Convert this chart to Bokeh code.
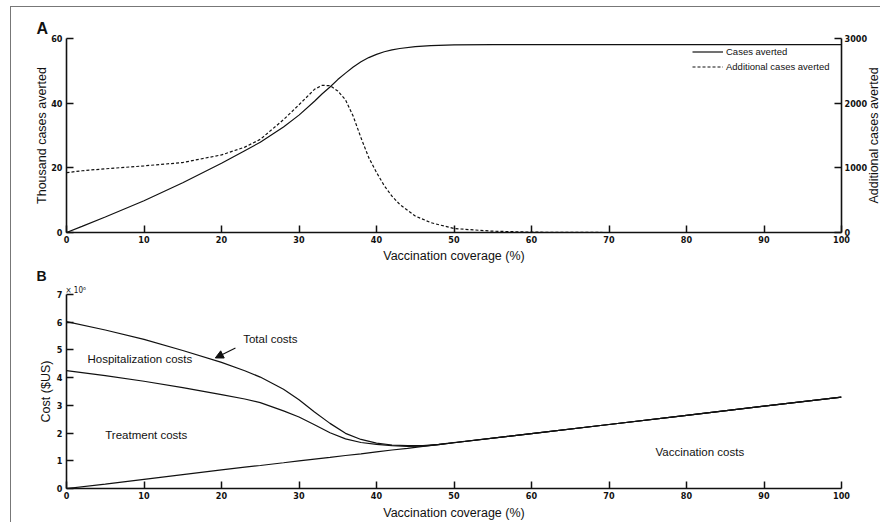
import math
from bokeh.plotting import figure
from bokeh.models import (Range1d, LinearAxis, FixedTicker, Label, Arrow, NormalHead,
                          Legend, LegendItem, Title)
from bokeh.layouts import column, row
from bokeh.embed import file_html
from bokeh.resources import INLINE

# ---------------- data ----------------
# Panel A
coverage_a = [0, 2, 5, 10, 15, 20, 23, 25, 28, 30, 32, 33, 34, 35, 36, 37, 38, 39, 40,
              41, 42, 43, 45, 47, 50, 55, 60, 70, 80, 90, 100]
cases_averted_thousand = [0, 1.9, 4.8, 9.8, 15.4, 21.4, 25.3, 27.9, 32.6, 36.3, 40.6, 42.9,
                          45.0, 47.3, 49.3, 51.2, 52.8, 54.1, 55.1, 55.9, 56.5, 56.9, 57.5,
                          57.8, 58.0, 58.1, 58.1, 58.1, 58.1, 58.1, 58.1]
additional_cases_averted = [925, 955, 985, 1030, 1082, 1200, 1320, 1440, 1745, 1975, 2214,
                            2276, 2270, 2189, 2051, 1796, 1464, 1158, 929, 724, 561, 434,
                            255, 153, 61, 20, 5, 0, 0, 0, 0]

# Panel B (cumulative curves, million $US)
coverage_b = [0, 5, 10, 15, 20, 23, 25, 28, 30, 32, 34, 36, 38, 40, 42, 44, 46, 48, 50,
              60, 70, 80, 90, 100]
vaccination_costs = [0, 0.16, 0.33, 0.50, 0.67, 0.77, 0.83, 0.93, 1.00, 1.06, 1.12, 1.19,
                     1.25, 1.32, 1.39, 1.45, 1.52, 1.58, 1.65, 1.98, 2.31, 2.64, 2.97, 3.30]
vacc_plus_treatment = [4.25, 4.07, 3.87, 3.64, 3.39, 3.23, 3.10, 2.80, 2.58, 2.30, 2.01, 1.79,
                       1.66, 1.59, 1.55, 1.52, 1.53, 1.58, 1.65, 1.98, 2.31, 2.64, 2.97, 3.30]
total_costs = [6.02, 5.72, 5.38, 4.98, 4.55, 4.25, 4.02, 3.58, 3.20, 2.76, 2.35, 1.99,
               1.77, 1.64, 1.57, 1.55, 1.55, 1.59, 1.66, 1.98, 2.31, 2.64, 2.97, 3.30]

x_ticks = [0, 10, 20, 30, 40, 50, 60, 70, 80, 90, 100]
a_left_ticks = [0, 20, 40, 60]
a_right_ticks = [0, 1000, 2000, 3000]
b_ticks = [0, 1, 2, 3, 4, 5, 6, 7]

# ---------------- style ----------------
TICK_FONT = "Liberation Sans Narrow, DejaVu Sans Condensed, sans-serif"
TEXT_FONT = "Liberation Sans"
INK = "#111111"


def style_axis(ax, ticks, standoff=4):
    ax.ticker = FixedTicker(ticks=ticks)
    ax.minor_tick_line_color = None
    ax.major_tick_in = 7
    ax.major_tick_out = 0
    ax.major_tick_line_width = 1.5
    ax.major_tick_line_color = INK
    ax.axis_line_width = 1.6
    ax.axis_line_color = INK
    ax.major_label_text_font = TICK_FONT
    ax.major_label_text_font_style = "bold"
    ax.major_label_text_font_size = "9px"
    ax.major_label_text_color = INK
    ax.major_label_standoff = standoff
    ax.axis_label_text_font = TEXT_FONT
    ax.axis_label_text_font_style = "normal"
    ax.axis_label_text_font_size = "12.5px"
    ax.axis_label_text_color = INK


def base_fig(width, height, ymax, top, bottom, right):
    p = figure(width=width, height=height, x_range=Range1d(0, 100), y_range=Range1d(0, ymax),
               output_backend="svg", toolbar_location=None,
               min_border_left=55, min_border_right=right,
               min_border_top=top, min_border_bottom=bottom)
    p.xgrid.visible = False
    p.ygrid.visible = False
    p.outline_line_color = None
    p.background_fill_color = "white"
    p.border_fill_color = "white"
    return p


# ---------------- panel A ----------------
p1 = base_fig(860, 258, 60, 31, 31, 30)
p1.extra_y_ranges = {"add": Range1d(0, 3000)}
right_ax = LinearAxis(y_range_name="add")
p1.add_layout(right_ax, "right")

r1 = p1.line(coverage_a, cases_averted_thousand, line_color=INK, line_width=1.2)
r2 = p1.line(coverage_a, additional_cases_averted, y_range_name="add", line_color=INK,
             line_width=1.2, line_dash="3 2")

style_axis(p1.xaxis[0], x_ticks, 3)
p1.xaxis[0].axis_label = "Vaccination coverage (%)"
p1.xaxis[0].axis_label_standoff = 3
style_axis(p1.yaxis[0], a_left_ticks, 4)
p1.yaxis[0].axis_label = "Thousand cases averted"
p1.yaxis[0].axis_label_standoff = -1
style_axis(right_ax, a_right_ticks, 3)

p1.add_layout(Title(text="A", align="left", offset=-30, standoff=4, text_font=TEXT_FONT,
                    text_font_style="bold", text_font_size="16px", text_color=INK), "above")

legend = Legend(items=[LegendItem(label="Cases averted", renderers=[r1]),
                       LegendItem(label="Additional cases averted", renderers=[r2])],
                location=(626, 158), padding=0, margin=0, spacing=0,
                glyph_width=31, glyph_height=15, label_height=15, label_standoff=3,
                label_text_font=TEXT_FONT, label_text_font_size="9.5px",
                label_text_color=INK, background_fill_alpha=0, border_line_color=None)
p1.add_layout(legend)

# right-hand axis title of panel A (reads bottom to top)
p3 = figure(width=16, height=258, output_backend="svg", toolbar_location=None,
            x_axis_location=None, y_axis_location=None, margin=(0, 0, 0, -7),
            min_border_left=0, min_border_right=0, min_border_top=31, min_border_bottom=31)
p3.add_layout(Title(text="Additional cases averted", align="center", standoff=0,
                    text_font=TEXT_FONT, text_font_style="normal", text_font_size="12.5px",
                    text_color=INK), "left")
p3.xgrid.visible = False
p3.ygrid.visible = False
p3.outline_line_color = None
p3.border_fill_alpha = 0
p3.background_fill_alpha = 0

# ---------------- panel B ----------------
p2 = base_fig(869, 257, 7, 10, 33, 39)
p2.line(coverage_b, total_costs, line_color=INK, line_width=1.2)
p2.line(coverage_b, vacc_plus_treatment, line_color=INK, line_width=1.2)
p2.line(coverage_b, vaccination_costs, line_color=INK, line_width=1.2)

style_axis(p2.xaxis[0], x_ticks, 3)
p2.xaxis[0].axis_label = "Vaccination coverage (%)"
p2.xaxis[0].axis_label_standoff = 4
style_axis(p2.yaxis[0], b_ticks, 4)
p2.yaxis[0].axis_label = "Cost ($US)"
p2.yaxis[0].axis_label_standoff = 1

p2.add_layout(Title(text="× 10⁶", align="left", offset=-1, standoff=0, text_font=TICK_FONT,
                    text_font_style="normal", text_font_size="8px", text_color=INK), "above")
p2.add_layout(Title(text="B", align="left", offset=-30, standoff=0, text_font=TEXT_FONT,
                    text_font_style="bold", text_font_size="14px", text_color=INK), "above")

ann = dict(text_font=TEXT_FONT, text_font_size="11.5px", text_color=INK,
           text_baseline="middle", text_align="left")
p2.add_layout(Label(x=22.8, y=5.39, text="Total costs", **ann))
p2.add_layout(Label(x=2.7, y=4.68, text="Hospitalization costs", **ann))
p2.add_layout(Label(x=5.0, y=1.93, text="Treatment costs", **ann))
p2.add_layout(Label(x=76.0, y=1.30, text="Vaccination costs", **ann))
p2.add_layout(Arrow(x_start=21.8, y_start=5.07, x_end=19.2, y_end=4.71,
                    line_color=INK, line_width=1.2,
                    end=NormalHead(size=8, fill_color=INK, line_color=INK)))

layout = column(row(p1, p3, spacing=0), p2, spacing=0, margin=(6, 0, 0, 10),
                styles={"border-left": "1.5px solid #777777",
                        "border-top": "1.5px solid #777777"})

open("out.html", "w").write(file_html(layout, INLINE))
